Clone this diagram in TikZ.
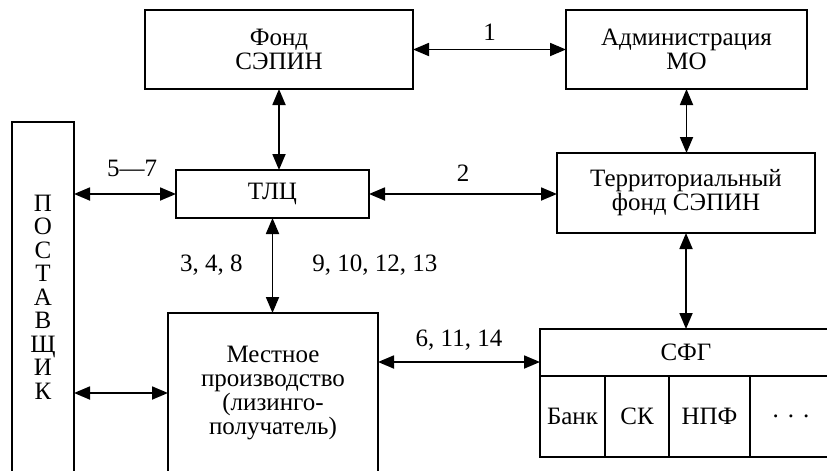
\documentclass[tikz,border=0pt]{standalone}
\usepackage{fontspec}
\setmainfont{Liberation Serif}
\usetikzlibrary{arrows.meta, calc}

\tikzset{
  block/.style={draw, line width=1.8pt, inner sep=0pt, outer sep=0pt,
    align=center, anchor=north west, font=\fontsize{25}{24}\selectfont},
  link/.style={<->, line width=1.8pt},
  num/.style={font=\fontsize{25}{25}\selectfont, inner sep=2pt},
}

\begin{document}
\begin{tikzpicture}[x=1pt, y=-1pt, >={Triangle[length=16pt,width=13pt]}]

%% ============================================================
%% Page frame: the lower boxes run past the lower/right edges
%% ============================================================
\useasboundingbox (0,0) rectangle (827,471);
\clip (0,0) rectangle (827,471);

%% ---- Top row ----
\node[block, minimum width=268pt, minimum height=79pt] (fond) at (145,10) {Фонд\\СЭПИН};
\node[block, minimum width=241pt, minimum height=79pt] (admin) at (566,10) {Администрация\\МО};

%% ---- Middle row ----
\node[block, minimum width=193pt, minimum height=48pt] (tlc) at (176,170) {ТЛЦ};
\node[block, minimum width=258pt, minimum height=80pt] (terr) at (557,153) {Территориальный\\фонд СЭПИН};

%% ---- Supplier (letters stacked) ----
\node[block, minimum width=62pt, minimum height=350pt, font=\fontsize{25}{23.5}\selectfont]
  (post) at (12,122) {П\\О\\С\\Т\\А\\В\\Щ\\И\\К};

%% ---- Local production ----
\node[block, minimum width=210pt, minimum height=160pt] (local) at (168,313)
  {Местное\\производство\\(лизинго-\\получатель)};

%% ---- SFG and its members ----
\node[block, minimum width=292pt, minimum height=47pt] (sfg) at (540,329) {СФГ};
\node[block, minimum width=65pt, minimum height=81pt] (bank) at (sfg.south west) {Банк};
\node[block, minimum width=64pt, minimum height=81pt] (sk) at (bank.north east) {СК};
\node[block, minimum width=81pt, minimum height=81pt] (npf) at (sk.north east) {НПФ};
\node[block, minimum width=82pt, minimum height=81pt] (rest) at (npf.north east)
  {.\hspace{9pt}.\hspace{9pt}.};

%% ---- Links ----
\draw[link] (fond) -- (admin) node[num, midway, above=6pt] {1};
\draw[link] (fond.south) -- (fond.south |- tlc.north);
\draw[link] (admin.south) -- (admin.south |- terr.north);
\draw[link] (tlc.east) -- (tlc.east -| terr.west) node[num, midway, above=10pt] {2};
\draw[link] (tlc.west) -- (tlc.west -| post.east) node[num, pos=0.43, above=14pt] {5---7};
\draw[link] (tlc.south) -- (tlc.south |- local.north)
  node[num, midway, left=27pt] {3, 4, 8}
  node[num, midway, right=37pt] {9, 10, 12, 13};
\draw[link] (post.east |- local.west) -- (local.west);
\draw[link] ([yshift=-9.5pt]sfg.west) -- ([yshift=-9.5pt]sfg.west -| local.east)
  node[num, midway, above=9pt] {6, 11, 14};
\draw[link] (terr.south) -- (terr.south |- sfg.north);

\end{tikzpicture}
\end{document}
